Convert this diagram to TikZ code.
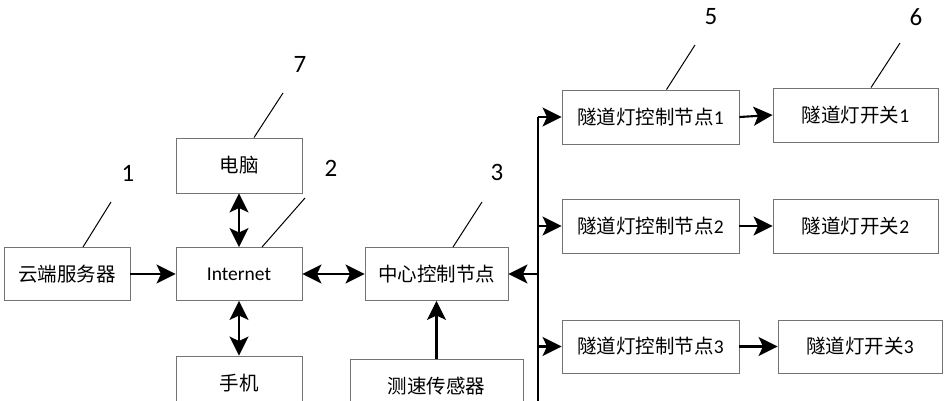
\documentclass[tikz,border=0pt]{standalone}
\usepackage{fontspec}
\setmainfont{Carlito}
\newfontfamily\cjk{Noto Sans CJK SC}
\usetikzlibrary{arrows.meta}
\begin{document}
\begin{tikzpicture}[x=1pt,y=-1pt,
  box/.style={draw=black!55, line width=0.9pt, fill=white, inner sep=0pt, font=\fontsize{19.5}{19.5}\selectfont},
  tip/.tip={Stealth[length=19pt,width=19pt,inset=4.5pt]},
  conn/.style={line width=2.1pt, -tip},
  biconn/.style={line width=2.1pt, tip-tip},
  bus/.style={line width=2.1pt},
  lead/.style={line width=1pt},
  num/.style={font=\fontsize{25}{25}\selectfont}]
\useasboundingbox (0,0) rectangle (948,400);
\clip (0,0) rectangle (948,400);
% boxes
\node[box, minimum width=126pt, minimum height=53pt] (yd) at (67,274) {\cjk 云端服务器};
\node[box, minimum width=126pt, minimum height=53pt] (net) at (239,274) {Internet};
\node[box, minimum width=126pt, minimum height=55pt] (pc) at (239,165.5) {\cjk 电脑};
\node[box, minimum width=126pt, minimum height=54pt] (ph) at (239,383) {\cjk 手机};
\node[box, minimum width=143pt, minimum height=53pt] (cc) at (436.5,274) {\cjk 中心控制节点};
\node[box, minimum width=173pt, minimum height=53pt] (sen) at (436.5,386) {\cjk 测速传感器};
\node[box, minimum width=177pt, minimum height=54pt] (n1) at (650.5,117) {{\cjk 隧道灯控制节点}1};
\node[box, minimum width=165pt, minimum height=54pt] (s1) at (855.5,115) {{\cjk 隧道灯开关}1};
\node[box, minimum width=177pt, minimum height=54pt] (n2) at (650.5,226) {{\cjk 隧道灯控制节点}2};
\node[box, minimum width=165pt, minimum height=54pt] (s2) at (855.5,226) {{\cjk 隧道灯开关}2};
\node[box, minimum width=177pt, minimum height=53pt] (n3) at (650.5,346.5) {{\cjk 隧道灯控制节点}3};
\node[box, minimum width=164pt, minimum height=53pt] (s3) at (860,346.5) {{\cjk 隧道灯开关}3};
% bus coordinates
\coordinate (b1) at (538,117);
\coordinate (b2) at (538,226);
\coordinate (bc) at (538,274);
\coordinate (b3) at (538,346.5);
\coordinate (bb) at (538,410);
% connectors
\draw[conn] (yd) -- (net);
\draw[biconn] (pc) -- (net);
\draw[biconn] (net) -- (ph);
\draw[biconn] (net) -- (cc);
\draw[conn] (sen) -- (cc);
\draw[bus] (b1) -- (bb);
\draw[conn] (b1) -- (n1.west);
\draw[conn] (b2) -- (n2.west);
\draw[conn] (b3) -- (n3.west);
\draw[conn] (bc) -- (cc.east);
\draw[conn] (n1.east) -- (s1.west);
\draw[conn] (n2) -- (s2);
\draw[conn] (n3) -- (s3);
% labels
\node[num] (l1) at (128,173) {1};
\node[num] (l2) at (331,168) {2};
\node[num] (l3) at (497,172) {3};
\node[num] (l5) at (711,17) {5};
\node[num] (l6) at (916,17) {6};
\node[num] (l7) at (300,64) {7};
\coordinate (e1) at (111,202);
\coordinate (e2) at (305,198);
\coordinate (e3) at (482,202);
\coordinate (e5) at (695,45);
\coordinate (e6) at (900,43);
\coordinate (e7) at (283,93);
\draw[lead] ([xshift=16pt]yd.north) -- (e1);
\draw[lead] ([xshift=23pt]net.north) -- (e2);
\draw[lead] ([xshift=16.5pt]cc.north) -- (e3);
\draw[lead] ([xshift=16pt]n1.north) -- (e5);
\draw[lead] ([xshift=15.5pt]s1.north) -- (e6);
\draw[lead] ([xshift=15pt]pc.north) -- (e7);
\end{tikzpicture}
\end{document}
